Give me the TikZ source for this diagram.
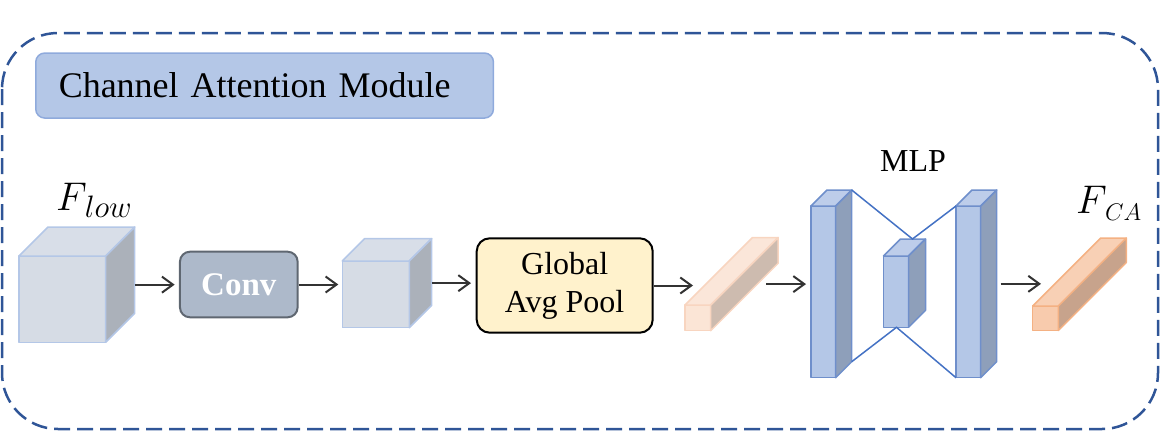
\RequirePackage{fix-cm}
\documentclass[tikz,border=0pt]{standalone}
\usepackage{fontspec}
\setmainfont{Liberation Serif}
\usetikzlibrary{arrows.meta}
\definecolor{dashblue}{HTML}{2F5597}
\definecolor{titlefill}{HTML}{B4C7E7}
\definecolor{titleline}{HTML}{8FAADC}
\definecolor{cubefront}{HTML}{D6DCE5}
\definecolor{cubetop}{HTML}{D8DEE8}
\definecolor{cubeside}{HTML}{ABB1BA}
\definecolor{cubeline}{HTML}{B4C7E7}
\definecolor{convfill}{HTML}{ADB9CA}
\definecolor{convline}{HTML}{5F6771}
\definecolor{gapfill}{HTML}{FFF2CC}
\definecolor{pinkfront}{HTML}{FBE5D6}
\definecolor{pinktop}{HTML}{FBE6D9}
\definecolor{pinkside}{HTML}{CDBBAF}
\definecolor{pinkline}{HTML}{F8D5C0}
\definecolor{orfront}{HTML}{F8CBAD}
\definecolor{ortop}{HTML}{F8D0B5}
\definecolor{orside}{HTML}{C7A38C}
\definecolor{orline}{HTML}{F4B183}
\definecolor{mlpfront}{HTML}{B4C7E7}
\definecolor{mlptop}{HTML}{BDCDEA}
\definecolor{mlpside}{HTML}{8E9FBA}
\definecolor{mlpline}{HTML}{6F8FCB}
\definecolor{linkblue}{HTML}{4472C4}
\definecolor{arrowgray}{HTML}{333333}
\tikzset{
  cubefrontst/.style={fill=cubefront,draw=cubeline,line width=1.5pt,line join=round},
  cubetopst/.style={fill=cubetop,draw=cubeline,line width=1.5pt,line join=round},
  cubesidest/.style={fill=cubeside,draw=cubeline,line width=1.5pt,line join=round},
  pinkfrontst/.style={fill=pinkfront,draw=pinkline,line width=1.5pt,line join=round},
  pinktopst/.style={fill=pinktop,draw=pinkline,line width=1.5pt,line join=round},
  pinksidest/.style={fill=pinkside,draw=pinkline,line width=1.5pt,line join=round},
  orfrontst/.style={fill=orfront,draw=orline,line width=1.5pt,line join=round},
  ortopst/.style={fill=ortop,draw=orline,line width=1.5pt,line join=round},
  orsidest/.style={fill=orside,draw=orline,line width=1.5pt,line join=round},
  mlpfrontst/.style={fill=mlpfront,draw=mlpline,line width=1.5pt,line join=round},
  mlptopst/.style={fill=mlptop,draw=mlpline,line width=1.5pt,line join=round},
  mlpsidest/.style={fill=mlpside,draw=mlpline,line width=1.5pt,line join=round},
  bbox/.style={inner sep=0pt,outer sep=0pt,anchor=south west},
  arr/.style={draw=arrowgray,line width=2pt,-{Straight Barb[length=11pt,width=16pt,line width=2pt]}},
  link/.style={draw=linkblue,line width=1.5pt},
  txt/.style={font=\fontsize{32}{40}\selectfont,inner sep=0pt},
  mathlabel/.style={anchor=base west,inner sep=0pt},
}
% #1 name, #2 x, #3 y (front top-left), #4 w, #5 h, #6 depth, #7 style prefix
\newcommand\mycuboid[7]{%
  \node[bbox,minimum width={(#4+#6)*1pt},minimum height={(#5+#6)*1pt}] (#1) at (#2,#3+#5) {};
  \path[#7frontst] (#2,#3) rectangle ++(#4,#5);
  \path[#7topst] (#2,#3) -- ++(#6,-#6) -- ++(#4,0) -- ++(-#6,#6) -- cycle;
  \path[#7sidest] (#2+#4,#3) -- ++(#6,-#6) -- ++(0,#5) -- ++(-#6,#6) -- cycle;
}
% big F with a subscript of a given size and drop
\newcommand\bigsym[3]{{\fontsize{40}{44}\selectfont$F$}\kern-2pt\raisebox{-#3pt}{\fontsize{#2}{#2}\selectfont$#1$}}
\begin{document}
\begin{tikzpicture}[x=1pt,y=-1pt]
\useasboundingbox (0,0) rectangle (1160,431);
% outer dashed frame
\draw[dashblue,line width=2.5pt,dash pattern=on 16pt off 7pt,rounded corners=56pt]
  (2,33) rectangle (1158,429);
% title
\node[fill=titlefill,draw=titleline,line width=1.5pt,rounded corners=9pt,anchor=north west,
      minimum height=65pt,text width=411.7pt,inner xsep=23pt,inner ysep=0pt,align=left,
      font=\fontsize{36}{40}\selectfont] (title) at (35,52.3) {\raisebox{-2pt}{Channel Attention Module}};
% big cube
\mycuboid{c1}{19}{256}{86.7}{86.3}{29}{cube}
\node[mathlabel] (flow) at (56,210) {\bigsym{low}{31}{7}};
% conv
\node[fill=convfill,draw=convline,line width=2pt,rounded corners=10pt,minimum width=117.7pt,
      minimum height=65.6pt,inner sep=0pt,text=white,font=\fontsize{33}{40}\selectfont\bfseries]
      (conv) at (238.8,284.5) {Conv};
% small cube
\mycuboid{c2}{342.3}{261}{67}{66.7}{22.4}{cube}
% global avg pool
\node[fill=gapfill,draw=black,line width=2pt,rounded corners=13pt,minimum width=176pt,
      minimum height=94.4pt,inner sep=0pt,align=center,font=\fontsize{32}{40}\selectfont]
      (gap) at (564.7,285.5) {\raisebox{-2pt}{Global}\\Avg Pool};
% pink bar
\mycuboid{pink}{685}{305}{25.7}{25.7}{67.5}{pink}
% MLP
\mycuboid{mm}{883.5}{256}{25}{71.3}{17}{mlp}
\mycuboid{ml}{811}{206}{24.7}{171.7}{16}{mlp}
\mycuboid{mr}{956}{206}{24.7}{171.7}{16}{mlp}
\draw[link] (ml.north east) -- ([xshift=8pt]mm.north) -- ([yshift=-16pt]mr.north west);
\draw[link] ([yshift=16pt]ml.south east) -- ([xshift=-8pt]mm.south) -- (mr.south west);
\node[txt,anchor=base] (mlp) at (913,171.7) {MLP};
% orange bar
\mycuboid{orb}{1032.7}{306}{25.6}{24.5}{68}{or}
\node[mathlabel] (fca) at (1076,213) {\bigsym{CA}{24}{7}};
% arrows
\draw[arr,shorten >=4.3pt] (c1.east) -- (c1.east -| conv.west);
\draw[arr,shorten >=4pt] (conv.east) -- (conv.east -| c2.west);
\draw[arr,shorten >=4.7pt] (c2.east) -- (c2.east -| gap.west);
\draw[arr,shorten >=-8pt] (gap.east) -- (gap.east -| pink.west);
\draw[arr,shorten <=-12pt,shorten >=5pt] (pink.east) -- (pink.east -| ml.west);
\draw[arr,shorten <=4pt,shorten >=-8.3pt] (mr.east) -- (mr.east -| orb.west);
\end{tikzpicture}
\end{document}
